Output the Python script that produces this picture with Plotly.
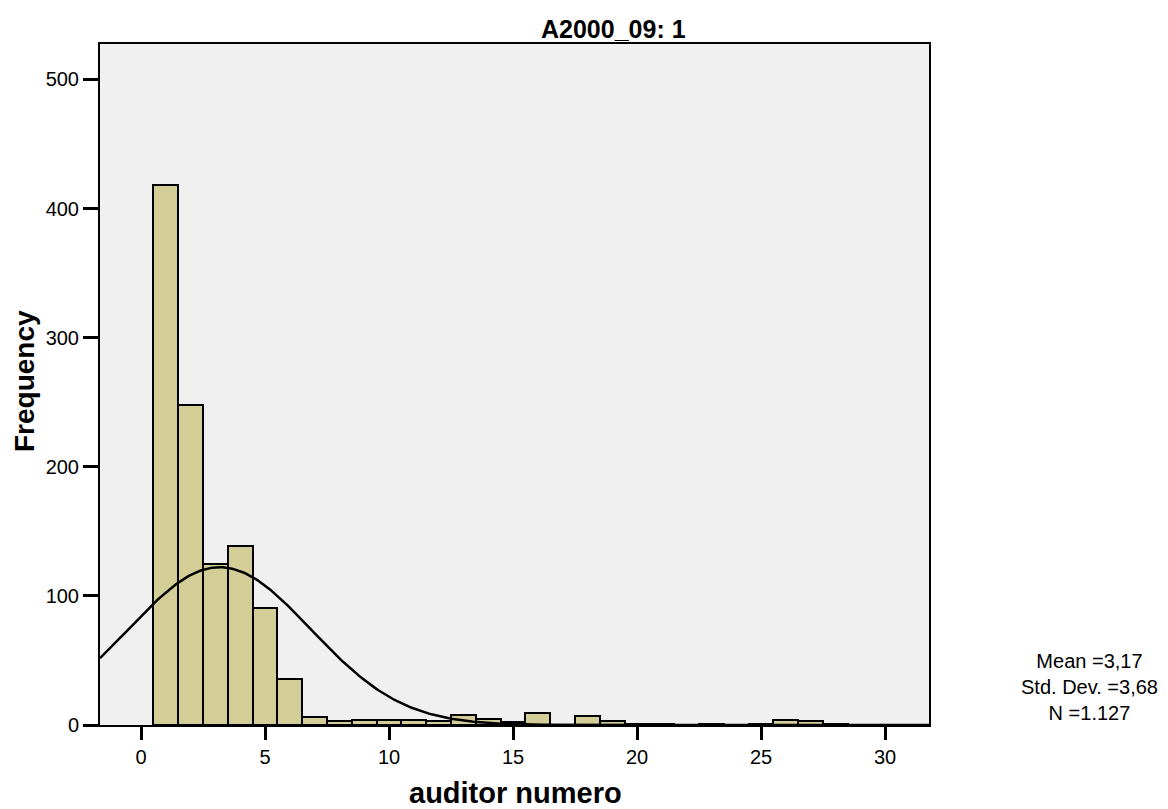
import numpy as np
import plotly.graph_objects as go

# Histogram of auditor numero (bin width 1, bins centred on integers)
bin_centers = list(range(1, 29))
frequencies = [418, 248, 125, 139, 91, 36, 6, 3, 4, 4,
               4, 3, 8, 5, 2, 9, 0, 7, 3, 1,
               1, 0, 1, 0, 1, 4, 3, 1]

# Summary statistics shown beside the chart
MEAN = 3.17
STD_DEV = 3.68
N = 1127
BIN_WIDTH = 1.0
stats_lines = ["Mean =3,17", "Std. Dev. =3,68", "N =1.127"]

x_ticks = [0, 5, 10, 15, 20, 25, 30]
y_ticks = [0, 100, 200, 300, 400, 500]

W, H = 1168, 809
L, R, T, B = 100, 239, 44, 84
X_RANGE = [-1.653, 31.77]
Y_RANGE = [0, 527.4]

FONT = "Liberation Sans, Arial, sans-serif"


def px_x(px):
    return (px - L) / (W - L - R)


def px_y(py):
    return (H - B - py) / (H - T - B)


# Normal curve scaled to the histogram counts
curve_x = np.linspace(X_RANGE[0], X_RANGE[1], 400)
curve_y = N * BIN_WIDTH / (STD_DEV * np.sqrt(2 * np.pi)) * np.exp(
    -0.5 * ((curve_x - MEAN) / STD_DEV) ** 2)

fig = go.Figure()
fig.add_trace(go.Bar(
    x=bin_centers, y=frequencies, width=BIN_WIDTH,
    marker=dict(color="#D3CE97", line=dict(color="black", width=2)),
    hoverinfo="x+y",
))
fig.add_trace(go.Scatter(
    x=curve_x, y=curve_y, mode="lines",
    line=dict(color="black", width=2.5), hoverinfo="skip",
))

fig.update_layout(
    width=W, height=H,
    margin=dict(l=L, r=R, t=T, b=B, pad=0),
    paper_bgcolor="white", plot_bgcolor="#F0F0F0",
    showlegend=False, bargap=0,
    font=dict(family=FONT, color="black", size=20),
)
fig.update_xaxes(
    range=X_RANGE, tickvals=x_ticks, ticktext=[str(v) for v in x_ticks],
    showgrid=False, zeroline=False,
    showline=True, linecolor="black", linewidth=2, mirror=True,
    ticks="outside", ticklen=13, tickwidth=2.5, tickcolor="black",
    tickfont=dict(size=20, family=FONT),
)
fig.update_yaxes(
    range=Y_RANGE, tickvals=y_ticks, ticktext=[str(v) for v in y_ticks],
    showgrid=False, zeroline=False,
    showline=True, linecolor="black", linewidth=2, mirror=True,
    ticks="outside", ticklen=15, tickwidth=2.5, tickcolor="black",
    tickfont=dict(size=20, family=FONT),
)

annotations = [
    dict(text="<b>A2000_09: 1</b>", x=px_x(613), y=px_y(29),
         font=dict(size=25, family=FONT)),
    dict(text="<b>auditor numero</b>", x=px_x(515), y=px_y(793),
         font=dict(size=29, family=FONT)),
    dict(text="<b>Frequency</b>", x=px_x(24), y=px_y(381), textangle=-90,
         font=dict(size=28, family=FONT)),
    dict(text="<br>".join(stats_lines), x=px_x(1089), y=px_y(687),
         align="center", font=dict(size=20, family=FONT)),
]
for a in annotations:
    a.update(xref="paper", yref="paper", showarrow=False,
             xanchor="center", yanchor="middle")
fig.update_layout(annotations=annotations)

fig.write_html("out.html")
